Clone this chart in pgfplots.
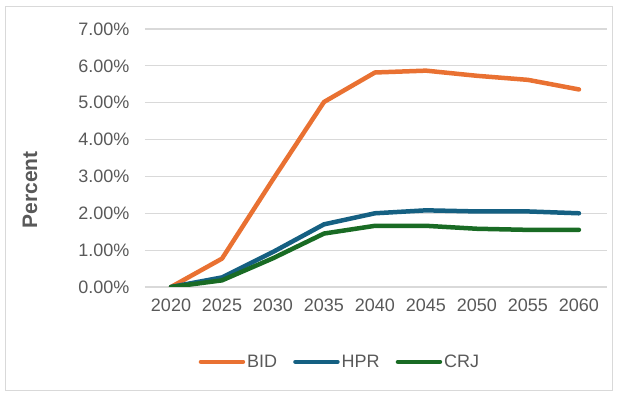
\documentclass[border=0pt]{standalone}
\usepackage{pgfplots}
\pgfplotsset{compat=1.18}
\usepackage{fontspec}
\setmainfont{Liberation Sans}
\definecolor{bidc}{HTML}{E97132}
\definecolor{hprc}{HTML}{156082}
\definecolor{crjc}{HTML}{196B24}
\definecolor{txt}{HTML}{595959}
\definecolor{gridc}{HTML}{D9D9D9}
\begin{document}
\begin{tikzpicture}[x=1pt,y=1pt]
\path (0,0) rectangle (622,393);
\draw[gridc, line width=1pt] (5,2) rectangle (612,386);
\begin{axis}[
  at={(145pt,106pt)}, anchor=south west,
  scale only axis, width=462pt, height=258pt,
  xmin=2017.45, xmax=2062.75, ymin=0, ymax=7,
  xtick={2020,2025,...,2060}, ytick={0,1,...,7},
  /pgf/number format/assume math mode=true,
  xticklabel style={/pgf/number format/1000 sep={}},
  yticklabel={\pgfmathprintnumber[fixed,fixed zerofill,precision=2]{\tick}\%},
  ticklabel style={font=\fontsize{18}{20}\selectfont, text=txt},
  xticklabel style={yshift=-8pt},
  yticklabel style={xshift=-12pt},
  axis line style={draw=none},
  major tick length=0pt,
  ymajorgrids=true, xmajorgrids=false, grid style={draw=gridc, line width=1.2pt},
  ylabel={\bfseries Percent},
  ylabel style={font=\fontsize{21}{23}\selectfont, text=txt, at={(rel axis cs:-0.249,0.376)}, anchor=center},
  legend columns=3,
  legend style={at={(rel axis cs:0.422,-0.29)}, anchor=center, draw=none, fill=none,
    font=\fontsize{18}{20}\selectfont, text=txt,
    /tikz/every even column/.append style={column sep=14pt}},
  legend image code/.code={\draw[#1, line cap=round] (0pt,0pt) -- (42pt,0pt);},
  every axis plot/.append style={line width=4.5pt, line cap=round, line join=round, mark=none},
]
\addplot[bidc] coordinates {(2020,0) (2025,0.77) (2030,2.92) (2035,5.02) (2040,5.82) (2045,5.87) (2050,5.73) (2055,5.62) (2060,5.36)};
\addlegendentry{BID}
\addplot[hprc] coordinates {(2020,0) (2025,0.26) (2030,0.95) (2035,1.70) (2040,2.00) (2045,2.08) (2050,2.05) (2055,2.05) (2060,2.00)};
\addlegendentry{HPR}
\addplot[crjc] coordinates {(2020,0) (2025,0.18) (2030,0.78) (2035,1.45) (2040,1.66) (2045,1.66) (2050,1.58) (2055,1.55) (2060,1.55)};
\addlegendentry{CRJ}
\end{axis}
\end{tikzpicture}
\end{document}
